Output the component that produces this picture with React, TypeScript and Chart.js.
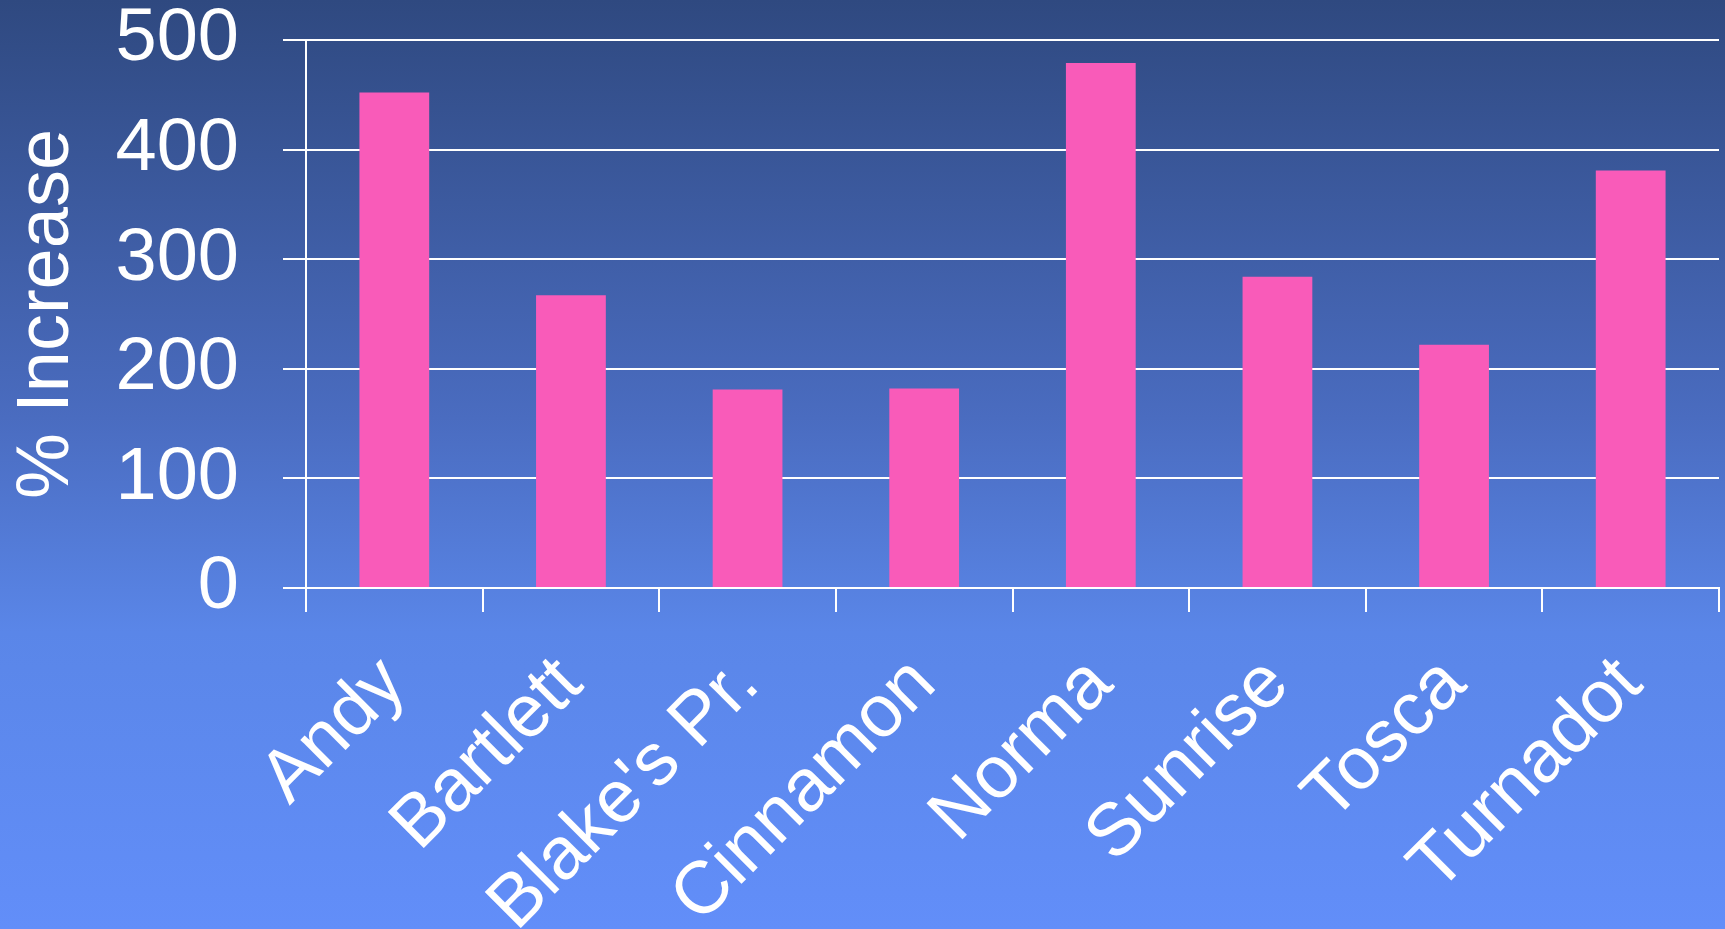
import React, { useEffect, useRef } from "react";
import { Chart, registerables } from "chart.js";

Chart.register(...registerables);

const categories = ["Andy", "Bartlett", "Blake's Pr.", "Cinnamon", "Norma", "Sunrise", "Tosca", "Turnadot"];
const increaseValues = [452, 267, 181, 182, 479, 284, 222, 381];
const yTickValues = [0, 100, 200, 300, 400, 500];

const FONT = "'Liberation Sans', Arial, sans-serif";

export default function App() {
  const canvasRef = useRef<HTMLCanvasElement | null>(null);

  useEffect(() => {
    const canvas = canvasRef.current;
    if (!canvas) return;
    const chart = new Chart(canvas, {
      type: "bar",
      data: {
        labels: categories,
        datasets: [
          {
            label: "% Increase",
            data: increaseValues,
            backgroundColor: "#F95BB9",
            borderWidth: 0,
            categoryPercentage: 1,
            barPercentage: 0.395,
          },
        ],
      },
      options: {
        animation: false,
        responsive: true,
        maintainAspectRatio: false,
        layout: { padding: { top: 40, right: 6, bottom: 0, left: 0 } },
        plugins: {
          legend: { display: false },
          tooltip: { enabled: false },
        },
        scales: {
          x: {
            offset: true,
            grid: {
              display: true,
              offset: true,
              drawOnChartArea: false,
              drawTicks: true,
              tickLength: 24,
              color: "#ffffff",
              lineWidth: 2,
            },
            border: { display: true, color: "#ffffff", width: 2 },
            ticks: {
              color: "#ffffff",
              font: { family: FONT, size: 74, lineHeight: 1.0 },
              minRotation: 45,
              maxRotation: 45,
              padding: 34,
              autoSkip: false,
            },
            afterFit: (scale: any) => {
              scale.height = 341;
            },
          },
          y: {
            min: 0,
            max: 500,
            afterBuildTicks: (scale: any) => {
              scale.ticks = yTickValues.map((v) => ({ value: v }));
            },
            afterFit: (scale: any) => {
              scale.width = 306;
              scale.paddingTop = 30;
              scale.paddingBottom = 0;
            },
            grid: {
              color: "#ffffff",
              lineWidth: 2,
              drawTicks: true,
              tickLength: 23,
            },
            border: { display: true, color: "#ffffff", width: 2 },
            ticks: {
              color: "#ffffff",
              font: { family: FONT, size: 74, lineHeight: 1.0 },
              padding: 44,
            },
            title: {
              display: true,
              text: "% Increase",
              color: "#ffffff",
              font: { family: FONT, size: 74, lineHeight: 1.2 },
              padding: { top: 3, bottom: 0 },
            },
          },
        },
      },
    });
    return () => chart.destroy();
  }, []);

  return (
    <div
      style={{
        position: "fixed",
        left: 0,
        top: 0,
        width: 1725,
        height: 929,
        background: "linear-gradient(to bottom, #2F4980 0%, #4A6CC0 45%, #5A86E8 68%, #628EF9 100%)",
      }}
    >
      <canvas ref={canvasRef} style={{ width: "1725px", height: "929px", display: "block" }} />
    </div>
  );
}
